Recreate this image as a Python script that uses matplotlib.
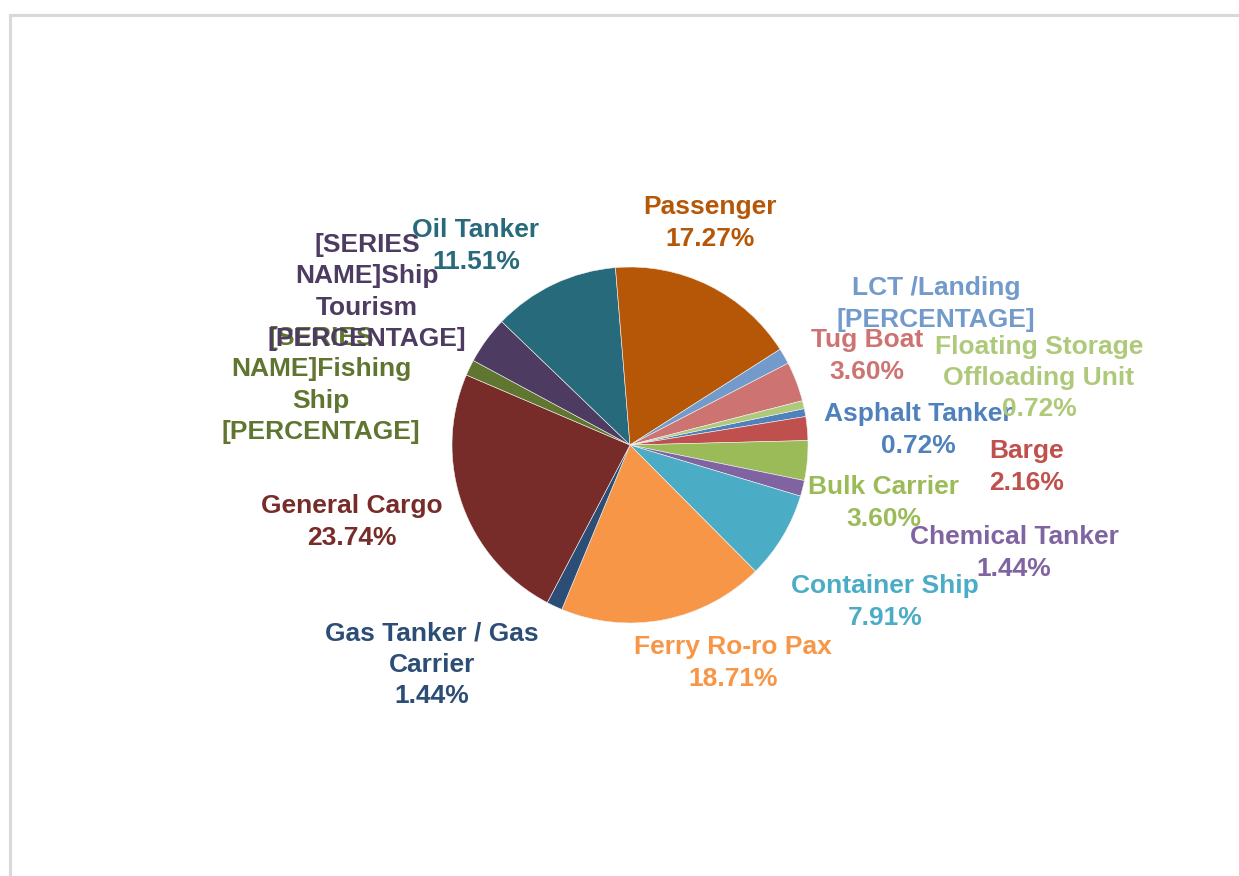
import matplotlib
matplotlib.use("Agg")
import matplotlib.pyplot as plt

# ---- data (Excel series order) ----
categories = ["Asphalt Tanker", "Barge", "Bulk Carrier", "Chemical Tanker", "Container Ship",
              "Ferry Ro-ro Pax", "Gas Tanker / Gas Carrier", "General Cargo", "Fishing Ship",
              "Ship Tourism", "Oil Tanker", "Passenger", "LCT /Landing",
              "Tug Boat", "Floating Storage Offloading Unit"]
shares = [0.72, 2.16, 3.60, 1.44, 7.91, 18.71, 1.44, 23.74, 1.44, 4.32, 11.51, 17.27, 1.44, 3.60, 0.72]
colors = ["#4F81BD", "#C0504D", "#9BBB59", "#8064A2", "#4BACC6", "#F79646", "#2C4D75", "#772C2A",
          "#5F7530", "#4D3B62", "#276A7C", "#B65708", "#729ACA", "#CD7371", "#AFC97A"]

# label text lines (name part) as shown; literal placeholder where the chart shows one
label_names = ["Asphalt Tanker", "Barge", "Bulk Carrier", "Chemical Tanker", "Container Ship",
               "Ferry Ro-ro Pax", "Gas Tanker / Gas\nCarrier", "General Cargo",
               "[SERIES\nNAME]Fishing\nShip", "[SERIES\nNAME]Ship\nTourism", "Oil Tanker",
               "Passenger", "LCT /Landing", "Tug Boat", "Floating Storage\nOffloading Unit"]
literal_pct = [False, False, False, False, False, False, False, False, True, True, False, False,
               True, False, False]

# label centres in image pixels (layout)
label_pos = [(918, 430), (1027, 467), (884, 503), (1014, 553), (885, 602), (733, 663),
             (432, 665), (352, 522), (321, 385), (367, 292), (476, 246), (710, 223),
             (936, 304), (867, 356), (1039, 378)]
# drawing order of labels (later ones on top)
draw_order = [7, 6, 5, 4, 3, 2, 1, 11, 12, 13, 0, 14, 8, 9, 10]

W, H = 1239, 876
fig = plt.figure(figsize=(W / 100, H / 100), dpi=100)
fig.patch.set_facecolor("white")

# chart border (partially visible)
border = plt.Rectangle((9.5 / W, -0.05), 1.2, (H - 15) / H + 0.05, transform=fig.transFigure,
                       fill=False, edgecolor="#D9D9D9", linewidth=2.2)
fig.add_artist(border)

cx, cy, r = 630, 445, 178
ax = fig.add_axes([(cx - r) / W, (H - cy - r) / H, 2 * r / W, 2 * r / H])
ax.pie(shares, colors=colors, startangle=11.8, counterclock=False, radius=1.0,
       wedgeprops=dict(edgecolor="#F2F2F2", linewidth=0.4))
ax.set_xlim(-1, 1)
ax.set_ylim(-1, 1)
ax.set_aspect("equal")
ax.axis("off")

font = ["Liberation Sans", "DejaVu Sans"]
for i in draw_order:
    name, v, lit, col = label_names[i], shares[i], literal_pct[i], colors[i]
    px, py = label_pos[i]
    pct = "[PERCENTAGE]" if lit else f"{v:.2f}%"
    txt = name + "\n" + pct
    fig.text(px / W, 1 - py / H, txt, ha="center", va="center", color=col,
             fontsize=19, fontweight="bold", family=font, linespacing=1.38,
             multialignment="center")

fig.savefig("out.png", dpi=100, facecolor="white")
